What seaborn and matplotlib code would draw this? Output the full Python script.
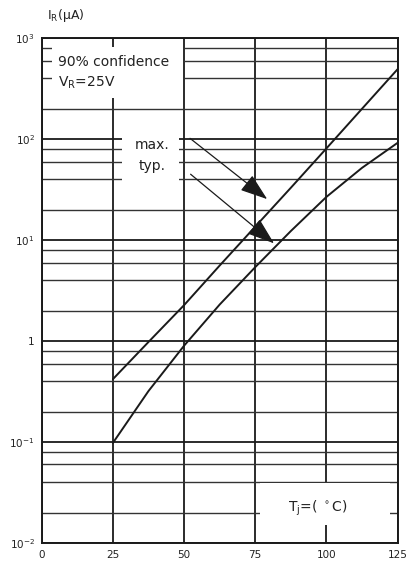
import numpy as np
import pandas as pd
import matplotlib
matplotlib.use('Agg')
import matplotlib.pyplot as plt
from matplotlib.patches import Rectangle
import seaborn as sns

# values (Ir in uA vs Tj in degC)
temp = [25, 37.5, 50, 62.5, 75, 87.5, 100, 112.5, 125]
ir_max = [0.42, 0.98, 2.27, 5.6, 13.6, 33, 81, 200, 493]
ir_typ = [0.098, 0.32, 0.9, 2.3, 5.4, 12.3, 26.8, 52, 92]

x_ticks = [0, 25, 50, 75, 100, 125]
y_ticks = [1e-2, 1e-1, 1, 1e1, 1e2, 1e3]
y_labels = [r'$\mathregular{10^{-2}}$', r'$\mathregular{10^{-1}}$', '1',
            r'$\mathregular{10^{1}}$', r'$\mathregular{10^{2}}$', r'$\mathregular{10^{3}}$']

df = pd.DataFrame({'Tj': temp * 2,
                   'Ir': ir_max + ir_typ,
                   'curve': ['max.'] * len(temp) + ['typ.'] * len(temp)})

sns.set_style('white')
plt.rcParams['font.family'] = ['DejaVu Sans']

fig = plt.figure(figsize=(4.09, 5.71), dpi=100)
ax = fig.add_axes([0.102, 0.049, 0.870, 0.884])

sns.lineplot(data=df, x='Tj', y='Ir', units='curve', estimator=None,
             color='#1a1a1a', lw=1.4, legend=False, ax=ax, zorder=4)

ax.set_yscale('log')
ax.set_xlim(0, 125)
ax.set_ylim(1e-2, 1e3)
ax.set_xticks(x_ticks)
ax.set_yticks(y_ticks)
ax.set_yticklabels(y_labels)
minor = [m * 10.0 ** d for d in range(-2, 3) for m in (2, 4, 6, 8)]
ax.set_yticks(minor, minor=True)
ax.yaxis.set_minor_formatter(matplotlib.ticker.NullFormatter())
ax.tick_params(which='both', length=0, labelsize=7.5, colors='#222222', pad=5)
ax.set_xlabel('')
ax.set_ylabel('')

ax.set_axisbelow(True)
ax.grid(which='major', axis='both', color='#1a1a1a', lw=1.3)
ax.grid(which='minor', axis='y', color='#333333', lw=1.0)
for s in ax.spines.values():
    s.set_color('#1a1a1a')
    s.set_linewidth(1.4)

# white label boxes covering the grid
for (x0, y0, w, h) in [(0.029, 0.881, 0.368, 0.101),
                       (0.225, 0.711, 0.161, 0.091),
                       (0.613, 0.036, 0.365, 0.083)]:
    ax.add_patch(Rectangle((x0, y0), w, h, transform=ax.transAxes,
                           facecolor='white', edgecolor='none', zorder=2.5))

ax.text(0.046, 0.952, '90% confidence', transform=ax.transAxes, fontsize=10,
        va='center', ha='left', color='#222222', zorder=3)
ax.text(0.046, 0.911, r'V$_\mathregular{R}$=25V', transform=ax.transAxes, fontsize=10,
        va='center', ha='left', color='#222222', zorder=3)
ax.text(0.31, 0.788, 'max.', transform=ax.transAxes, fontsize=10,
        va='center', ha='center', color='#222222', zorder=3)
ax.text(0.31, 0.747, 'typ.', transform=ax.transAxes, fontsize=10,
        va='center', ha='center', color='#222222', zorder=3)
ax.text(0.775, 0.069, r'T$_\mathregular{j}$=( $^\circ$C)', transform=ax.transAxes, fontsize=10,
        va='center', ha='center', color='#222222', zorder=3)

arrow = dict(arrowstyle='-|>,head_length=1.0,head_width=0.35', lw=0.9,
             color='#1a1a1a', mutation_scale=17, shrinkA=0, shrinkB=0)
ax.annotate('', xy=(79.2, 25.5), xytext=(52.1, 102), arrowprops=arrow, zorder=5)
ax.annotate('', xy=(81.6, 9.3), xytext=(52.3, 45), arrowprops=arrow, zorder=5)

fig.text(0.115, 0.972, r'I$_\mathregular{R}$(μA)', fontsize=9, va='center',
         ha='left', color='#222222')

fig.savefig('out.png', dpi=100)
